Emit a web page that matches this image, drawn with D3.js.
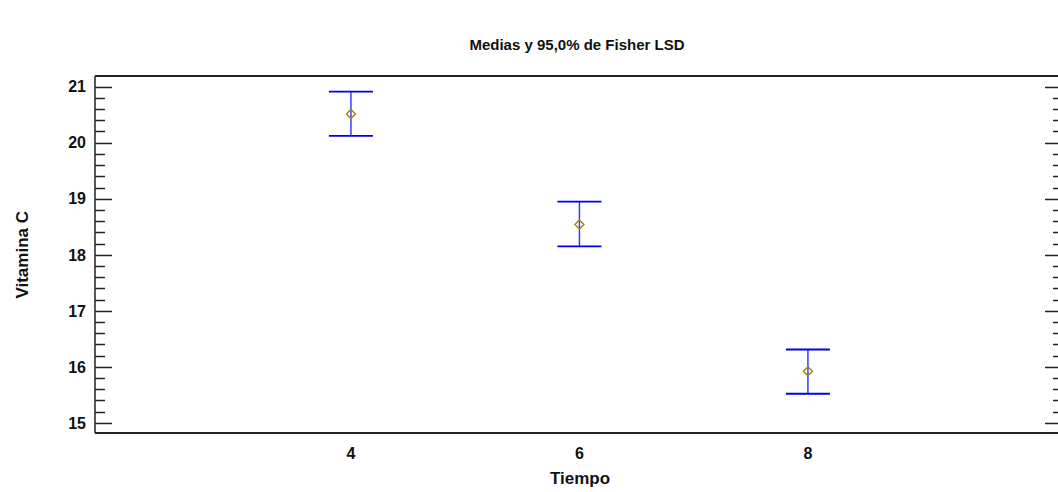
<!DOCTYPE html>
<html><head><meta charset="utf-8">
<script src="https://cdn.jsdelivr.net/npm/d3@7/dist/d3.min.js"></script>
<style>body{margin:0;background:#fff}svg{display:block}text{font-family:"Liberation Sans",Arial,sans-serif}</style>
</head><body>
<svg id="c" width="1058" height="492"></svg>
<script>
const categories = [4, 6, 8];
const means = [20.51, 18.54, 15.92];
const lower = [20.12, 18.15, 15.52];
const upper = [20.91, 18.95, 16.31];
const yTicks = [15, 16, 17, 18, 19, 20, 21];
const title = "Medias y 95,0% de Fisher LSD";
const xLabel = "Tiempo";
const yLabel = "Vitamina C";

const svg = d3.select("#c");
const L = 95, R = 1057, T = 76, B = 433;
const x = d3.scaleLinear().domain([1.76, 10.18]).range([L, R]);
const y = d3.scaleLinear().domain([14.82, 21.19]).range([B, T]);

const minor = d3.range(15, 21.001, 0.2);
const g = svg.append("g");
// frame
g.append("line").attr("x1",L).attr("x2",R+1).attr("y1",T).attr("y2",T).attr("stroke","#222").attr("stroke-width",2);
g.append("line").attr("x1",L).attr("x2",R+1).attr("y1",B).attr("y2",B).attr("stroke","#222").attr("stroke-width",2);
g.append("line").attr("x1",L).attr("x2",L).attr("y1",T).attr("y2",B).attr("stroke","#222").attr("stroke-width",1.5);

// left ticks
const isMajor = v => Math.abs(v - Math.round(v)) < 1e-6;
g.selectAll(".lt").data(minor).join("line")
  .attr("x1", L).attr("x2", d => L + (isMajor(d) ? 17 : 10))
  .attr("y1", d => Math.round(y(d))+0.5).attr("y2", d => Math.round(y(d))+0.5)
  .attr("stroke","#222").attr("stroke-width",1.5);
g.selectAll(".rt").data(minor).join("line")
  .attr("x1", R+1).attr("x2", d => R+1 - (isMajor(d) ? 13 : 5))
  .attr("y1", d => Math.round(y(d))+0.5).attr("y2", d => Math.round(y(d))+0.5)
  .attr("stroke","#222").attr("stroke-width",1.5);

g.selectAll(".yl").data(yTicks).join("text")
  .attr("x", L - 9).attr("y", d => y(d)).attr("dy","0.36em")
  .attr("text-anchor","end").attr("font-size",16).attr("font-weight","bold").attr("fill","#111")
  .text(d => d);

g.selectAll(".xl").data(categories).join("text")
  .attr("x", d => x(d)).attr("y", 459)
  .attr("text-anchor","middle").attr("font-size",16).attr("font-weight","bold").attr("fill","#111")
  .text(d => d);

svg.append("text").attr("x", 580).attr("y", 484).attr("text-anchor","middle")
  .attr("font-size",17).attr("font-weight","bold").attr("fill","#111").text(xLabel);
svg.append("text").attr("transform","translate(28,"+ (y(18)) +") rotate(-90)").attr("text-anchor","middle")
  .attr("font-size",17).attr("font-weight","bold").attr("fill","#111").text(yLabel);
svg.append("text").attr("x", 577).attr("y", 50).attr("text-anchor","middle")
  .attr("font-size",15).attr("font-weight","bold").attr("fill","#111").text(title);

// error bars
const data = categories.map((c,i)=>({c, m:means[i], lo:lower[i], hi:upper[i]}));
const eb = svg.append("g");
eb.selectAll(".v").data(data).join("line")
  .attr("x1", d=>x(d.c)).attr("x2", d=>x(d.c)).attr("y1", d=>y(d.hi)).attr("y2", d=>y(d.lo))
  .attr("stroke","#3a3aff").attr("stroke-width",1.5);
eb.selectAll(".cu").data(data).join("line")
  .attr("x1", d=>x(d.c)-22).attr("x2", d=>x(d.c)+22).attr("y1", d=>y(d.hi)).attr("y2", d=>y(d.hi))
  .attr("stroke","#0000ee").attr("stroke-width",1.8);
eb.selectAll(".cl").data(data).join("line")
  .attr("x1", d=>x(d.c)-22).attr("x2", d=>x(d.c)+22).attr("y1", d=>y(d.lo)).attr("y2", d=>y(d.lo))
  .attr("stroke","#0000ee").attr("stroke-width",1.8);
eb.selectAll(".pt").data(data).join("path")
  .attr("transform", d=>"translate("+x(d.c)+","+y(d.m)+")")
  .attr("d","M0,-4.5L4.5,0L0,4.5L-4.5,0Z")
  .attr("fill","none").attr("stroke","#9a8800").attr("stroke-width",1.4);
</script>
</body></html>
